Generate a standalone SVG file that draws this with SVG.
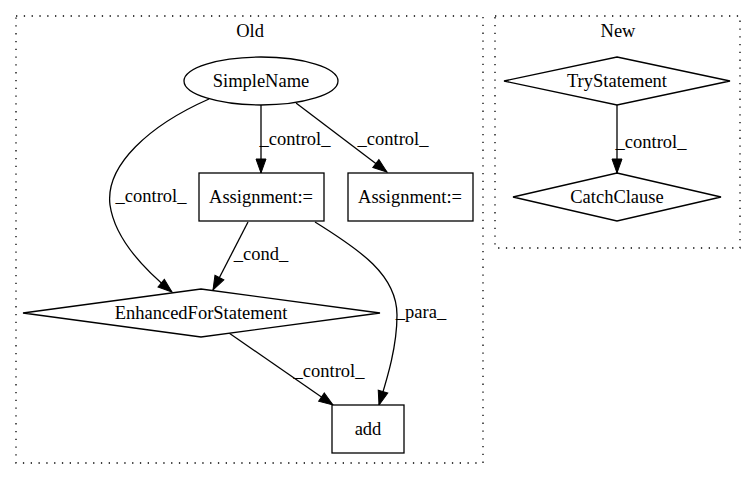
<svg xmlns="http://www.w3.org/2000/svg" width="756" height="480" viewBox="0 0 756 480" font-family="'Liberation Serif', 'DejaVu Serif', serif" font-size="18.5">
<style>
text{font-family:'Liberation Serif','Times New Roman',serif;font-size:18.5px;fill:#000;text-anchor:middle}
.n{fill:#fff;stroke:#000;stroke-width:1.3}
.c{fill:none;stroke:#000;stroke-width:1.3;stroke-dasharray:1.3,6.5}
.e{fill:none;stroke:#000;stroke-width:1.3;marker-end:url(#a)}
</style>
<defs>
<marker id="a" markerUnits="userSpaceOnUse" markerWidth="14" markerHeight="10" refX="14" refY="5" orient="auto" overflow="visible">
<path d="M0,0 L14,5 L0,10 z" fill="#000" stroke="#000"/>
</marker>
</defs>
<rect width="756" height="480" fill="#fff"/>
<g id="cluster_old">
<rect class="c" x="16" y="16" width="467" height="447"/>
<text x="250" y="37">Old</text>
</g>
<g id="cluster_new">
<rect class="c" x="495" y="16" width="245" height="232"/>
<text x="618" y="37">New</text>
</g>
<g id="edges">
<path class="e" d="M261,105 L261,173"/>
<text x="295" y="145">_control_</text>
<path class="e" d="M296,103 L387,172"/>
<text x="393" y="145">_control_</text>
<path class="e" d="M209,99 C150,125 105,165 110,205 C115,240 145,270 172,292"/>
<text x="151" y="202">_control_</text>
<path class="e" d="M248,222 L213,290"/>
<text x="261" y="260">_cond_</text>
<path class="e" d="M315,222 C360,250 397,275 397,315 C397,350 385,385 379,405"/>
<text x="421" y="318">_para_</text>
<path class="e" d="M229,333 L333,405"/>
<text x="329" y="377">_control_</text>
<path class="e" d="M617,105 L617,173"/>
<text x="651" y="148">_control_</text>
</g>
<g id="SimpleName">
<ellipse class="n" cx="261" cy="81" rx="77" ry="24"/>
<text x="261" y="87">SimpleName</text>
</g>
<g id="Assignment1">
<rect class="n" x="199" y="173" width="125" height="48"/>
<text x="261" y="203">Assignment:=</text>
</g>
<g id="Assignment2">
<rect class="n" x="348" y="173" width="125" height="48"/>
<text x="410" y="203">Assignment:=</text>
</g>
<g id="EnhancedForStatement">
<polygon class="n" points="201,289 380,313 201,337 23,313"/>
<text x="201" y="319">EnhancedForStatement</text>
</g>
<g id="add">
<rect class="n" x="332" y="405" width="72" height="48"/>
<text x="368" y="435">add</text>
</g>
<g id="TryStatement">
<polygon class="n" points="617,57 730,81 617,105 504,81"/>
<text x="617" y="87">TryStatement</text>
</g>
<g id="CatchClause">
<polygon class="n" points="617,173 721,197 617,221 513,197"/>
<text x="617" y="203">CatchClause</text>
</g>
</svg>
